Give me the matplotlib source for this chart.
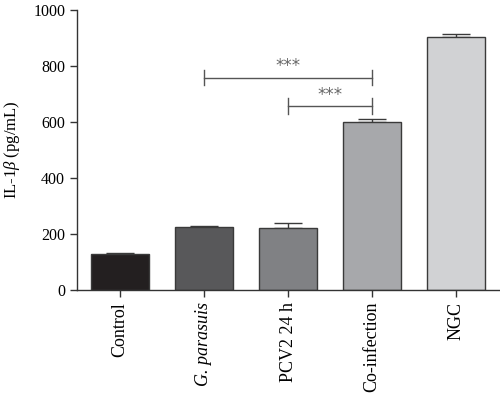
import matplotlib.pyplot as plt
import numpy as np

plt.rcParams['font.family'] = ['Liberation Serif', 'DejaVu Serif']
plt.rcParams['mathtext.fontset'] = 'custom'
plt.rcParams['mathtext.rm'] = 'Liberation Serif'
plt.rcParams['mathtext.it'] = 'Liberation Serif:italic'

# data
groups = ['Control', 'G. parasuis', 'PCV2 24 h', 'Co-infection', 'NGC']
values = [128, 226, 220, 599, 902]
errors = [3, 3, 18, 10, 12]
colors = ['#231f20', '#58585a', '#808184', '#a7a8ab', '#d1d2d4']
y_ticks = [0, 200, 400, 600, 800, 1000]

# significance brackets: (from, to, height)
sig = [(1, 3, 758, '***'), (2, 3, 657, '***')]

fig = plt.figure(figsize=(5, 3.93), dpi=100)
ax = fig.add_axes([0.154, 0.262, 0.846, 0.713])

x = np.arange(len(groups))
ax.bar(x, values, width=0.69, color=colors, edgecolor='#3a3a3a', linewidth=1.0, zorder=2)
ax.errorbar(x, values, yerr=[[0] * len(values), errors], fmt='none',
            ecolor='#3a3a3a', elinewidth=1.0, capsize=10, capthick=1.0, zorder=1)

for a, b, h, txt in sig:
    ax.plot([x[a], x[b]], [h, h], color='#555555', lw=1.0)
    ax.plot([x[a], x[a]], [h - 28, h + 28], color='#555555', lw=1.0)
    ax.plot([x[b], x[b]], [h - 28, h + 28], color='#555555', lw=1.0)
    ax.text((x[a] + x[b]) / 2, h + 8, txt, ha='center', va='bottom',
            fontsize=12, color='#666666', family='DejaVu Sans')

ax.set_xlim(-0.51, 4.52)
ax.set_ylim(0, 1000)
ax.set_yticks(y_ticks)
ax.set_xticks(x)
ax.set_xticklabels(groups, rotation=90, fontsize=13)
ax.get_xticklabels()[1].set_fontstyle('italic')
ax.tick_params(axis='y', labelsize=11.5, length=5, width=1, color='#333333')
ax.tick_params(axis='x', length=5, width=1, color='#333333')
ax.set_ylabel('IL-1$\\mathit{\\beta}$ (pg/mL)', fontsize=12, labelpad=8)

for s in ['top', 'right']:
    ax.spines[s].set_visible(False)
for s in ['left', 'bottom']:
    ax.spines[s].set_color('#333333')
    ax.spines[s].set_linewidth(1.0)

fig.savefig('out.png', dpi=100)
